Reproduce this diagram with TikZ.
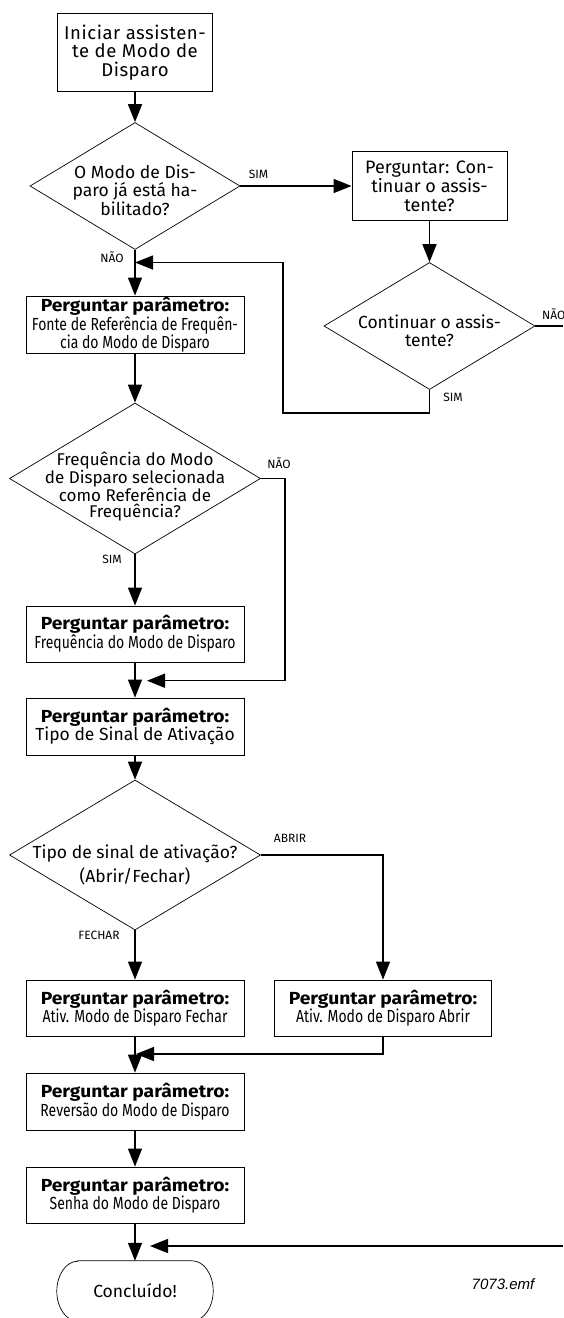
\documentclass[tikz,border=0pt]{standalone}
\usepackage{fontspec}
\setmainfont{Fira Sans}
\newfontfamily\condf[FakeStretch=0.8]{Fira Sans}
\newfontfamily\widef[FakeStretch=1.1]{Fira Sans}
\newfontfamily\spacedf[LetterSpace=3]{Fira Sans}
\newfontfamily\arialfont{Liberation Sans}
\usetikzlibrary{shapes.geometric,arrows.meta}
\newcommand\fmain{\fontsize{17.5}{18.3}\selectfont}
\newcommand\fbold{\widef\fontsize{17.5}{20}\selectfont\bfseries}
\newcommand\fcond{\condf\fontsize{17.5}{16}\selectfont}
\newcommand\fstart{\spacedf\fontsize{18.5}{18.3}\selectfont}
\begin{document}
\begin{tikzpicture}[x=1pt,y=-1pt,
  box/.style={draw, line width=0.9pt, inner sep=0pt, align=center},
  dia/.style={draw, diamond, inner sep=0pt, line width=0.7pt},
  dtext/.style={align=center, font=\fmain, inner sep=0pt},
  lbl/.style={font=\fontsize{12}{12}\selectfont, inner sep=0pt},
  conn/.style={line width=1.5pt},
  arr/.style={conn, -{Triangle[length=18pt,width=14pt]}}]
\clip (0,0) rectangle (563,1318);
\useasboundingbox (0,0) rectangle (563,1318);
% nodes
\node[box, minimum width=155pt, minimum height=78pt, font=\fstart] (start) at (135,52.5) {Iniciar assisten-\\te de Modo de\\Disparo};
\node[dia, minimum width=210pt, minimum height=127pt] (d1) at (135,186) {};
\node[dtext] (d1t) at (135,190) {O Modo de Dis-\\paro já está ha-\\bilitado?};
\node[box, minimum width=155pt, minimum height=69pt, font=\fontsize{18}{18.8}\selectfont] (ask) at (429.5,186) {Perguntar: Con-\\tinuar o assis-\\tente?};
\node[dia, minimum width=211pt, minimum height=127pt] (d2) at (429.5,326) {};
\node[dtext] (d2t) at (429.5,331) {Continuar o assis-\\tente?};
\node[box, minimum width=218pt, minimum height=57pt] (b3) at (135,324.5) {\fbold Perguntar parâmetro:\\\fcond Fonte de Referência de Frequên-\\\fcond cia do Modo de Disparo};
\node[dia, minimum width=251pt, minimum height=151pt] (d3) at (135,478.5) {};
\node[dtext, font=\fontsize{17}{16.3}\selectfont] (d3t) at (135,486.5) {Frequência do Modo\\de Disparo selecionada\\como Referência de\\Frequência?};
\node[box, minimum width=218pt, minimum height=56pt] (b4) at (135,634) {\fbold Perguntar parâmetro:\\\fcond Frequência do Modo de Disparo};
\node[box, minimum width=218pt, minimum height=57pt] (b5) at (135,726.5) {\fbold Perguntar parâmetro:\\\fmain Tipo de Sinal de Ativação};
\node[dia, minimum width=251pt, minimum height=150pt] (d4) at (135,855) {};
\node[dtext] (d4t) at (135,865) {Tipo de sinal de ativação?\\[4pt](Abrir/Fechar)};
\node[box, minimum width=218pt, minimum height=56pt] (b6) at (135,1008) {\fbold Perguntar parâmetro:\\\fcond Ativ. Modo de Disparo Fechar};
\node[box, minimum width=217pt, minimum height=56pt] (b7) at (383,1008) {\fbold Perguntar parâmetro:\\\fcond Ativ. Modo de Disparo Abrir};
\node[box, minimum width=218pt, minimum height=57pt] (b8) at (135,1101.5) {\fbold Perguntar parâmetro:\\\fcond Reversão do Modo de Disparo};
\node[box, minimum width=218pt, minimum height=56pt] (b9) at (135,1195) {\fbold Perguntar parâmetro:\\\fcond Senha do Modo de Disparo};
\node[minimum width=156pt, minimum height=60pt, inner sep=0pt, font=\fmain] (term) at (135,1291) {Concluído!};
\draw[line width=0.7pt] ([xshift=21pt]term.north west) -- ([xshift=-21pt]term.north east)
  arc[start angle=90, end angle=-90, x radius=21pt, y radius=30pt]
  -- ([xshift=21pt]term.south west)
  arc[start angle=270, end angle=90, x radius=21pt, y radius=30pt] -- cycle;
\node[font=\arialfont\itshape\fontsize{15}{17}\selectfont, inner sep=0pt] (fname) at (503,1284) {7073.emf};
% labels
\node[lbl] (l1) at (258.5,174) {SIM};
\node[lbl, anchor=west] (l2) at (542,314) {NÃO};
\node[lbl] (l3) at (453,397) {SIM};
\node[lbl] (l4) at (112,257) {NÃO};
\node[lbl] (l5) at (279,463) {NÃO};
\node[lbl] (l6) at (112,559) {SIM};
\node[lbl] (l7) at (290,838) {ABRIR};
\node[lbl] (l8) at (99,935) {FECHAR};
% coordinates
\coordinate (j1) at (135,262.5);
\coordinate (j2) at (147,680.7);
\coordinate (j3) at (136,1054);
\coordinate (j4) at (150,1246);
\coordinate (e2) at (563,326);
\coordinate (e4) at (563,1246);
% connectors
\draw[arr] (start) -- (d1);
\draw[arr] (d1) -- (ask);
\draw[arr] (ask) -- (d2);
\draw[conn] (d2.east) -- (e2);
\draw[arr] (d2.south) -- (429.5,413) -- (283,413) -- (283,262.5) -- (j1);
\draw[arr] (d1) -- (b3);
\draw[arr] (b3) -- (d3);
\draw[arr] (d3.east) -- (285,478.5) -- (285,680.7) -- (j2);
\draw[arr] (d3) -- (b4);
\draw[arr] (b4) -- (b5);
\draw[arr] (b5) -- (d4);
\draw[arr] (d4.east) -| (b7.north);
\draw[arr] (d4) -- (b6);
\draw[arr] (b6) -- (b8);
\draw[arr] (b7.south) |- (j3);
\draw[arr] (b8) -- (b9);
\draw[arr] (b9) -- (term);
\draw[arr] (e4) -- (j4);
\end{tikzpicture}
\end{document}
